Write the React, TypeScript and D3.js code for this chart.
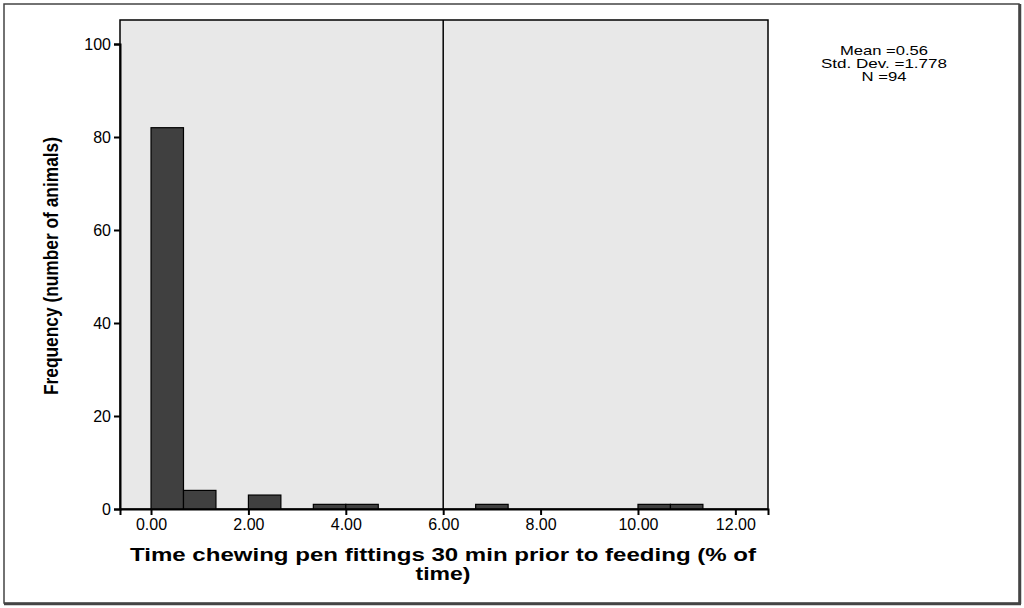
import React, { useEffect, useRef } from 'react'
import * as d3 from 'd3'

// histogram bins (lower edge, % of time) and counts
const binLower = [0, 0.6667, 2.0, 3.3333, 4.0, 6.6667, 10.0, 10.6667]
const binCounts = [82, 4, 3, 1, 1, 1, 1, 1]
const binWidth = 0.6667
const xTicks = [0, 2, 4, 6, 8, 10, 12]
const yTicks = [0, 20, 40, 60, 80, 100]
const refLine = 6
const stats = ['Mean =0.56', 'Std. Dev. =1.778', 'N =94']
const statsWidth = [88, 126, 45]

const W = 1024
const H = 608
const plot = { left: 120, top: 20, right: 768, bottom: 509 }
const font = 'Liberation Sans, Arial, sans-serif'

export default function App() {
  const ref = useRef<SVGGElement>(null)

  useEffect(() => {
    const g = d3.select(ref.current)
    g.selectAll('*').remove()

    const x = d3.scaleLinear().domain([-0.637, 12.67]).range([plot.left, plot.right])
    const y = d3.scaleLinear().domain([0, 100]).range([plot.bottom, 44])

    g.append('rect')
      .attr('x', plot.left).attr('y', plot.top)
      .attr('width', plot.right - plot.left).attr('height', plot.bottom - plot.top)
      .attr('fill', '#e8e8e8').attr('stroke', '#000').attr('stroke-width', 1.5)

    g.selectAll('rect.bar')
      .data(binLower.map((lo, i) => ({ lo, n: binCounts[i] })))
      .join('rect')
      .attr('class', 'bar')
      .attr('x', d => x(d.lo))
      .attr('width', d => x(d.lo + binWidth) - x(d.lo))
      .attr('y', d => y(d.n))
      .attr('height', d => y(0) - y(d.n))
      .attr('fill', '#404040')
      .attr('stroke', '#000')
      .attr('stroke-width', 1.2)

    g.append('line')
      .attr('x1', x(refLine)).attr('x2', x(refLine))
      .attr('y1', plot.top).attr('y2', plot.bottom)
      .attr('stroke', '#000').attr('stroke-width', 1.5)

    const xAxis = g.append('g')
      .attr('transform', `translate(0,${plot.bottom})`)
      .call(d3.axisBottom(x).tickValues(xTicks).tickFormat(d3.format('.2f')).tickSize(6).tickPadding(4))
    xAxis.select('.domain').attr('stroke-width', 2)
    xAxis.selectAll('line').attr('stroke-width', 2)
    xAxis.selectAll('text')
      .attr('font-family', font)
      .attr('font-size', 16).attr('fill', '#000')

    const yAxis = g.append('g')
      .attr('transform', `translate(${plot.left},0)`)
      .call(d3.axisLeft(y).tickValues(yTicks).tickSize(6).tickPadding(3))
    yAxis.select('.domain').attr('stroke-width', 2)
    yAxis.selectAll('line').attr('stroke-width', 2)
    yAxis.selectAll('text')
      .attr('font-family', font)
      .attr('font-size', 16).attr('fill', '#000')

    g.append('text')
      .attr('transform', 'translate(58,266) rotate(-90)')
      .attr('text-anchor', 'middle')
      .attr('font-family', 'Liberation Sans Narrow, Liberation Sans, Arial, sans-serif')
      .attr('font-weight', 'bold').attr('font-size', 20)
      .attr('textLength', 258).attr('lengthAdjust', 'spacingAndGlyphs')
      .text('Frequency (number of animals)')

    const xl = g.append('text')
      .attr('text-anchor', 'middle')
      .attr('font-family', font)
      .attr('font-weight', 'bold').attr('font-size', 18.5)
    xl.append('tspan').attr('x', 443).attr('y', 561)
      .attr('textLength', 626).attr('lengthAdjust', 'spacingAndGlyphs')
      .text('Time chewing pen fittings 30 min prior to feeding (% of')
    xl.append('tspan').attr('x', 443).attr('y', 580)
      .attr('textLength', 55).attr('lengthAdjust', 'spacingAndGlyphs')
      .text('time)')

    g.append('g').selectAll('text')
      .data(stats)
      .join('text')
      .attr('x', 884)
      .attr('y', (_, i) => 55 + i * 13)
      .attr('text-anchor', 'middle')
      .attr('font-family', font)
      .attr('font-size', 13)
      .attr('textLength', (_, i) => statsWidth[i])
      .attr('lengthAdjust', 'spacingAndGlyphs')
      .text(d => d)
  }, [])

  return (
    <svg width={W} height={H} style={{ display: 'block' }}>
      <style>{'body{margin:0}'}</style>
      <rect x={0} y={0} width={W} height={H} fill="#fff" />
      <rect x={4} y={4} width={1015} height={599} fill="none" stroke="#444" strokeWidth={1.5} />
      <line x1={1020} y1={4} x2={1020} y2={604} stroke="#444" strokeWidth={2.5} />
      <line x1={4} y1={604} x2={1021} y2={604} stroke="#444" strokeWidth={2.5} />
      <g ref={ref} />
    </svg>
  )
}
